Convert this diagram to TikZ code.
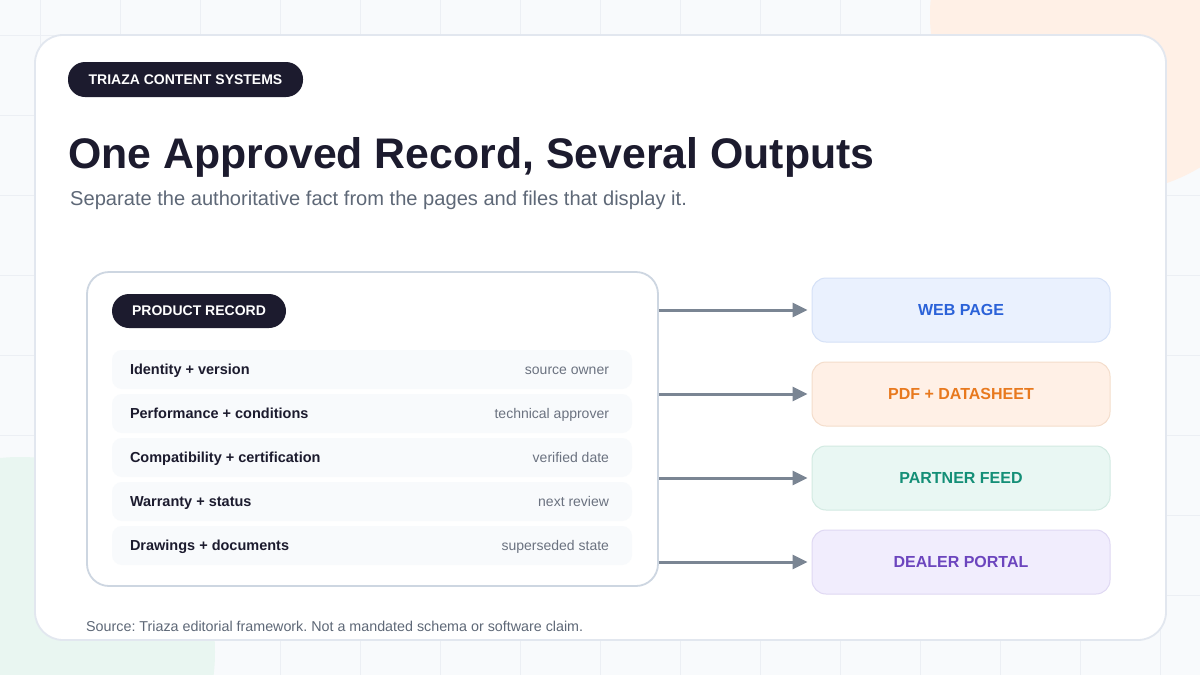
\documentclass[tikz,border=0pt]{standalone}
\usepackage{fontspec}
\setmainfont{Liberation Sans}
\usetikzlibrary{arrows.meta}
\frenchspacing

\definecolor{PageBg}{HTML}{F8FAFC}
\definecolor{GridLine}{HTML}{ECEFF4}
\definecolor{BlobOrange}{HTML}{FFF0E6}
\definecolor{BlobGreen}{HTML}{E9F6F1}
\definecolor{CardLine}{HTML}{E2E7EF}
\definecolor{RecordLine}{HTML}{CDD6E1}
\definecolor{Navy}{HTML}{1C1B2E}
\definecolor{SubGray}{HTML}{5E6877}
\definecolor{RowFill}{HTML}{F8FAFC}
\definecolor{RowGray}{HTML}{6B7280}
\definecolor{ArrowGray}{HTML}{7A8593}
\definecolor{WebFill}{HTML}{EAF1FE}
\definecolor{WebLine}{HTML}{D5E1F7}
\definecolor{WebText}{HTML}{2B62D8}
\definecolor{PdfFill}{HTML}{FFF0E6}
\definecolor{PdfLine}{HTML}{F4DDCB}
\definecolor{PdfText}{HTML}{E8791E}
\definecolor{FeedFill}{HTML}{E9F7F3}
\definecolor{FeedLine}{HTML}{D2EAE2}
\definecolor{FeedText}{HTML}{148F77}
\definecolor{PortalFill}{HTML}{F1EDFD}
\definecolor{PortalLine}{HTML}{DFD8F3}
\definecolor{PortalText}{HTML}{6C45BE}

\tikzstyle{pill}=[rectangle, rounded corners=17pt, fill=Navy, text=white, inner sep=0pt, minimum height=34pt, font=\bfseries\fontsize{14}{16}\selectfont]
\tikzstyle{rowbox}=[rectangle, rounded corners=10pt, fill=RowFill, minimum width=520pt, minimum height=39pt]
\tikzstyle{rowkey}=[anchor=west, inner sep=0pt, text=Navy, text height=10.4pt, text depth=0pt, font=\bfseries\fontsize{14.5}{16}\selectfont]
\tikzstyle{rowval}=[anchor=east, inner sep=0pt, text=RowGray, text height=10pt, text depth=0pt, font=\fontsize{14}{16}\selectfont]
\tikzstyle{output}=[rectangle, rounded corners=14pt, line width=1pt, minimum width=298pt, minimum height=64pt, font=\bfseries\fontsize{16}{18}\selectfont]
\tikzstyle{flow}=[draw=ArrowGray, line width=3pt, -{Triangle[length=15pt, width=14pt]}, shorten >=4pt]

\begin{document}
\begin{tikzpicture}[x=1pt, y=-1pt]
      \useasboundingbox (0,0) rectangle (1200,675);
      \fill[PageBg] (0,0) rectangle (1200,675);
      \begin{scope}
        \clip (0,0) rectangle (1200,675);
        \foreach \gx in {40,120,...,1160} \draw[GridLine, line width=1pt] (\gx,0) -- (\gx,675);
        \foreach \gy in {35,115,...,675} \draw[GridLine, line width=1pt] (0,\gy) -- (1200,\gy);
        \fill[BlobOrange] (1108,15) circle (178pt);
        \fill[BlobGreen] (20,652) circle (195pt);
      \end{scope}

      % card and heading
      \node (card) at (600.5,337.5) [rectangle, rounded corners=28pt, fill=white, draw=CardLine, line width=1.8pt, minimum width=1131pt, minimum height=605pt] {};
      \node (badge) at (185.5,79.5) [pill, minimum width=235pt, minimum height=35pt] {TRIAZA CONTENT SYSTEMS};
      \node (title) at (68,168) [anchor=base west, inner sep=0pt, text=Navy, font=\bfseries\fontsize{42.8}{48}\selectfont] {One Approved Record, Several Outputs};
      \node (subtitle) at (70,205) [anchor=base west, inner sep=0pt, text=SubGray, font=\fontsize{20.1}{24}\selectfont] {Separate the authoritative fact from the pages and files that display it.};

      % record panel
      \node (record) at (372.5,429) [rectangle, rounded corners=22pt, fill=white, draw=RecordLine, line width=1.8pt, minimum width=571pt, minimum height=314pt] {};
      \node (recordbadge) at (199,311) [pill, minimum width=174pt] {PRODUCT RECORD};

      \node (row1) at (372,369.5) [rowbox] {};
      \node (key1) at ([xshift=18pt]row1.west) [rowkey] {Identity + version};
      \node (val1) at ([xshift=-23pt]row1.east) [rowval] {source owner};
      \node (row2) at (372,413.5) [rowbox] {};
      \node (key2) at ([xshift=18pt]row2.west) [rowkey] {Performance + conditions};
      \node (val2) at ([xshift=-23pt]row2.east) [rowval] {technical approver};
      \node (row3) at (372,457.5) [rowbox] {};
      \node (key3) at ([xshift=18pt]row3.west) [rowkey] {Compatibility + certification};
      \node (val3) at ([xshift=-23pt]row3.east) [rowval] {verified date};
      \node (row4) at (372,501.5) [rowbox] {};
      \node (key4) at ([xshift=18pt]row4.west) [rowkey] {Warranty + status};
      \node (val4) at ([xshift=-23pt]row4.east) [rowval] {next review};
      \node (row5) at (372,545.5) [rowbox] {};
      \node (key5) at ([xshift=18pt]row5.west) [rowkey] {Drawings + documents};
      \node (val5) at ([xshift=-23pt]row5.east) [rowval] {superseded state};

      % outputs
      \node (web) at (961,310) [output, fill=WebFill, draw=WebLine, text=WebText] {WEB PAGE};
      \node (pdf) at (961,394) [output, fill=PdfFill, draw=PdfLine, text=PdfText] {PDF + DATASHEET};
      \node (feed) at (961,478) [output, fill=FeedFill, draw=FeedLine, text=FeedText] {PARTNER FEED};
      \node (portal) at (961,562) [output, fill=PortalFill, draw=PortalLine, text=PortalText] {DEALER PORTAL};

      \draw[flow] (record.east |- web.west) -- (web.west);
      \draw[flow] (record.east |- pdf.west) -- (pdf.west);
      \draw[flow] (record.east |- feed.west) -- (feed.west);
      \draw[flow] (record.east |- portal.west) -- (portal.west);

      \node (source) at (86,631) [anchor=base west, inner sep=0pt, text=SubGray, font=\fontsize{14.3}{16}\selectfont] {Source: Triaza editorial framework. Not a mandated schema or software claim.};
    \end{tikzpicture}
\end{document}
